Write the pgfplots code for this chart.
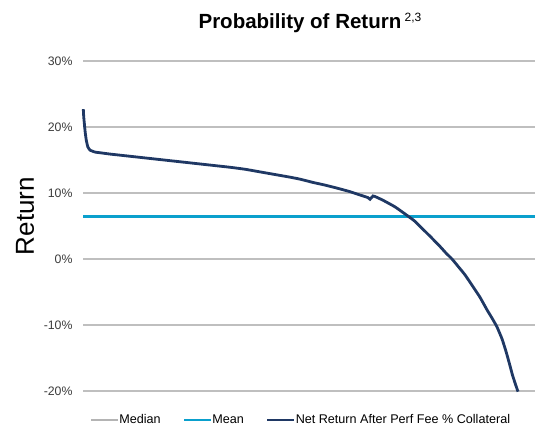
\documentclass[border=0pt]{standalone}
\usepackage{pgfplots}
\pgfplotsset{compat=1.18}
\usepackage{fontspec}
\setmainfont{Liberation Sans}
\definecolor{navy}{RGB}{31,56,100}
\definecolor{meanc}{RGB}{10,160,205}
\definecolor{gridc}{RGB}{191,191,191}
\definecolor{medc}{RGB}{180,180,180}
\definecolor{tickc}{RGB}{60,60,60}
\begin{document}
\begin{tikzpicture}[x=1pt,y=1pt]
\useasboundingbox (0,0) rectangle (537,434);
\begin{axis}[
  at={(83pt,43pt)}, anchor=south west,
  scale only axis, width=452pt, height=330pt,
  xmin=83, xmax=535, ymin=-20, ymax=30,
  xtick=\empty,
  ytick={-20,-10,0,10,20,30},
  yticklabels={-20\%,-10\%,0\%,10\%,20\%,30\%},
  yticklabel style={font=\fontsize{12.3}{14}\selectfont, text=tickc, xshift=-7pt},
  major tick length=0pt,
  axis line style={draw=none},
  ymajorgrids,
  grid style={color=gridc, line width=1.3pt},
  clip=false,
  legend columns=3,
  legend style={draw=none, fill=none, at={(0.48,-0.088)}, anchor=center,
    font=\fontsize{12.6}{14}\selectfont,
    nodes={inner xsep=0pt, inner ysep=1pt},
    /tikz/every even column/.append style={column sep=22pt}},
  legend image code/.code={\draw[#1] (0pt,0pt) -- (27pt,0pt);},
]
\addlegendimage{medc, line width=2.5pt}
\addlegendentry{Median}
\addplot[meanc, line width=2.8pt] coordinates {(83,6.5) (535,6.5)};
\addlegendentry{Mean}
\addplot[navy, line width=2.8pt, smooth, tension=0.25] coordinates {
(83.3,22.7) (83.7,21.6) (84.3,20.6) (85.2,19.2) (86.3,18.0) (87.8,17.0) (90,16.5)
(95,16.2) (100,16.1) (110,15.9) (125,15.65) (140,15.4) (155,15.15) (170,14.9)
(185,14.65) (200,14.4) (215,14.15) (230,13.9) (245,13.6) (260,13.2) (275,12.8)
(290,12.4) (300,12.1) (313,11.6) (325,11.2) (338,10.7) (350,10.2) (360,9.7)
(368,9.3) (370,9.05) (373,9.55) (376,9.4) (383,8.9) (395,7.9) (408,6.5)
(415,5.7) (423,4.5) (431,3.3) (440,1.9) (446,0.9) (452,0) (458,-1.1)
(465,-2.4) (473,-4.2) (480,-5.8) (487,-7.7) (492,-8.95) (497,-10.3)
(502,-12.1) (506,-14.0) (509.5,-15.9) (512.5,-17.6) (515.5,-19.0) (518,-20.1)};
\addlegendentry{Net Return After Perf Fee \% Collateral}
\end{axis}
\node[font=\fontsize{20.5}{22}\selectfont\bfseries, anchor=base] at (310,405) {Probability of Return\,\raisebox{7pt}{\fontsize{12}{13}\selectfont\mdseries 2,3}};
\node[font=\fontsize{26}{28}\selectfont, rotate=90, anchor=center] at (25,218) {Return};
\end{tikzpicture}
\end{document}
